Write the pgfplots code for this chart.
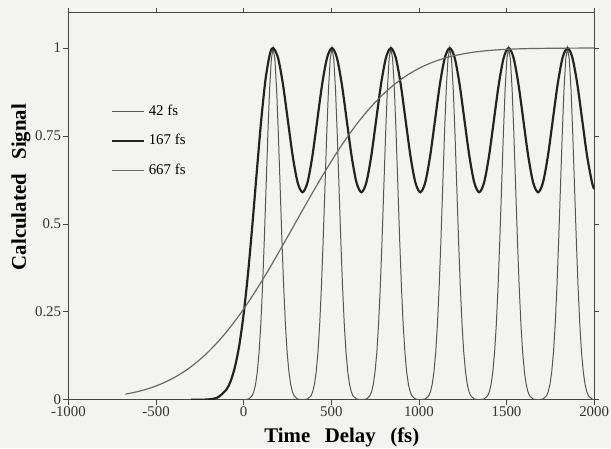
\documentclass[border=0pt]{standalone}
\usepackage{fontspec}
\setmainfont{Liberation Serif}
\usepackage{pgfplots}
\pgfplotsset{compat=1.18}
\definecolor{bgc}{RGB}{243,243,241}
\definecolor{axc}{RGB}{70,70,70}
\definecolor{cA}{RGB}{85,85,85}
\definecolor{cB}{RGB}{35,35,35}
\definecolor{cC}{RGB}{105,105,105}
\begin{document}
\begin{tikzpicture}
\useasboundingbox (-34.5pt,-24.5pt) rectangle (273.5pt,201.5pt);
\fill[bgc] (-34.5pt,-24.5pt) rectangle (273.5pt,201.5pt);
\begin{axis}[
  scale only axis, width=265pt, height=195pt,
  xmin=-1000, xmax=2000, ymin=0, ymax=1.1,
  xtick={-1000,-500,0,500,1000,1500,2000},
  xticklabels={-1000,-500,0,500,1000,1500,2000},
  ytick={0,0.25,0.5,0.75,1},
  yticklabels={0,0.25,0.5,0.75,1},
  tick align=outside, major tick length=2.5pt,
  tick style={color=axc, line width=0.4pt},
  axis line style={color=axc, line width=0.6pt},
  ticklabel style={font=\fontsize{7.5}{9}\selectfont, color=black!80, inner sep=1pt},
  xlabel={\textbf{Time\hspace{0.7em}Delay\hspace{0.7em}(fs)}},
  ylabel={\textbf{Calculated\hspace{0.7em}Signal}},
  label style={font=\fontsize{10.5}{12}\selectfont},
  xlabel style={at={(axis description cs:0.52,0)}, anchor=base, yshift=-21.5pt},
  ylabel style={at={(axis description cs:0,0.55)}, anchor=center, yshift=24pt},
  legend style={at={(axis cs:-760,0.85)}, anchor=north west, draw=none, fill=none,
    font=\fontsize{7.5}{9}\selectfont, row sep=4pt, inner sep=0pt},
  legend cell align=left,
  legend image code/.code={\draw[#1] (0pt,0pt) -- (16pt,0pt);},
]
% 42 fs
\addplot[cA, line width=0.5pt] coordinates {
(0,0) (28,0.002) (48,0.011) (58,0.023) (68,0.044) (78,0.080) (88,0.135) (98,0.216) (108,0.325) (118,0.458) (128,0.607) (138,0.755) (148,0.883) (158,0.969) (168,1.000) (178,0.969) (188,0.883) (198,0.755) (208,0.607) (218,0.458) (228,0.325) (238,0.216) (248,0.135) (258,0.080) (268,0.044) (278,0.023) (288,0.011) (308,0.002) (336,0)
(364,0.002) (384,0.011) (394,0.023) (404,0.044) (414,0.080) (424,0.135) (434,0.216) (444,0.325) (454,0.458) (464,0.607) (474,0.755) (484,0.883) (494,0.969) (504,1.000) (514,0.969) (524,0.883) (534,0.755) (544,0.607) (554,0.458) (564,0.325) (574,0.216) (584,0.135) (594,0.080) (604,0.044) (614,0.023) (624,0.011) (644,0.002) (672,0)
(700,0.002) (720,0.011) (730,0.023) (740,0.044) (750,0.080) (760,0.135) (770,0.216) (780,0.325) (790,0.458) (800,0.607) (810,0.755) (820,0.883) (830,0.969) (840,1.000) (850,0.969) (860,0.883) (870,0.755) (880,0.607) (890,0.458) (900,0.325) (910,0.216) (920,0.135) (930,0.080) (940,0.044) (950,0.023) (960,0.011) (980,0.002) (1008,0)
(1036,0.002) (1056,0.011) (1066,0.023) (1076,0.044) (1086,0.080) (1096,0.135) (1106,0.216) (1116,0.325) (1126,0.458) (1136,0.607) (1146,0.755) (1156,0.883) (1166,0.969) (1176,1.000) (1186,0.969) (1196,0.883) (1206,0.755) (1216,0.607) (1226,0.458) (1236,0.325) (1246,0.216) (1256,0.135) (1266,0.080) (1276,0.044) (1286,0.023) (1296,0.011) (1316,0.002) (1344,0)
(1372,0.002) (1392,0.011) (1402,0.023) (1412,0.044) (1422,0.080) (1432,0.135) (1442,0.216) (1452,0.325) (1462,0.458) (1472,0.607) (1482,0.755) (1492,0.883) (1502,0.969) (1512,1.000) (1522,0.969) (1532,0.883) (1542,0.755) (1552,0.607) (1562,0.458) (1572,0.325) (1582,0.216) (1592,0.135) (1602,0.080) (1612,0.044) (1622,0.023) (1632,0.011) (1652,0.002) (1680,0)
(1708,0.002) (1728,0.011) (1738,0.023) (1748,0.044) (1758,0.080) (1768,0.135) (1778,0.216) (1788,0.325) (1798,0.458) (1808,0.607) (1818,0.755) (1828,0.883) (1838,0.969) (1848,1.000) (1858,0.969) (1868,0.883) (1878,0.755) (1888,0.607) (1898,0.458) (1908,0.325) (1918,0.216) (1928,0.135) (1938,0.080) (1948,0.044) (1958,0.023) (1968,0.011) (1988,0.002) (2000,0)
};
\addlegendentry{42 fs}
% 167 fs
\addplot[cB, line width=1.1pt, smooth] coordinates {
(-300,0.000) (-250,0.000) (-200,0.001) (-150,0.006) (-100,0.028) (-75,0.052) (-50,0.093) (-25,0.155) (0,0.244) (25,0.360) (50,0.499) (75,0.649) (100,0.794) (125,0.912) (150,0.984) (168,1.000)
(196,0.9725) (224,0.8975) (252,0.795) (280,0.6925) (308,0.6175) (336,0.590) (364,0.6175) (392,0.6925) (420,0.795) (448,0.8975) (476,0.9725)
(504,1.000) (532,0.9725) (560,0.8975) (588,0.795) (616,0.6925) (644,0.6175) (672,0.590) (700,0.6175) (728,0.6925) (756,0.795) (784,0.8975) (812,0.9725)
(840,1.000) (868,0.9725) (896,0.8975) (924,0.795) (952,0.6925) (980,0.6175) (1008,0.590) (1036,0.6175) (1064,0.6925) (1092,0.795) (1120,0.8975) (1148,0.9725)
(1176,1.000) (1204,0.9725) (1232,0.8975) (1260,0.795) (1288,0.6925) (1316,0.6175) (1344,0.590) (1372,0.6175) (1400,0.6925) (1428,0.795) (1456,0.8975) (1484,0.9725)
(1512,1.000) (1540,0.9725) (1568,0.8975) (1596,0.795) (1624,0.6925) (1652,0.6175) (1680,0.590) (1708,0.6175) (1736,0.6925) (1764,0.795) (1792,0.8975) (1820,0.9725)
(1848,1.000) (1876,0.9725) (1904,0.8975) (1932,0.795) (1960,0.6925) (1988,0.6175) (2000,0.599)
};
\addlegendentry{167 fs}
% 667 fs
\addplot[cC, line width=0.6pt, smooth] coordinates {
(-675,0.0158) (-650,0.0182) (-600,0.0237) (-550,0.0307) (-500,0.0392) (-450,0.0496) (-400,0.0620) (-350,0.0768) (-300,0.0941) (-250,0.1142) (-200,0.1372) (-150,0.1630) (-100,0.1918) (-50,0.2236) (0,0.2582) (50,0.2953) (100,0.3347) (150,0.3760) (200,0.4191) (250,0.4629) (300,0.5071) (350,0.5513) (400,0.5948) (450,0.6372) (500,0.6780) (550,0.7167) (600,0.7531) (650,0.7869) (700,0.8177) (750,0.8456) (800,0.8705) (850,0.8925) (900,0.9117) (950,0.9281) (1000,0.9422) (1050,0.9539) (1100,0.9637) (1150,0.9717) (1200,0.9782) (1300,0.9875) (1400,0.9931) (1500,0.9964) (1600,0.9982) (1700,0.9991) (1800,0.9996) (1900,0.9999) (2000,1.0000)
};
\addlegendentry{667 fs}
\end{axis}
\end{tikzpicture}
\end{document}
